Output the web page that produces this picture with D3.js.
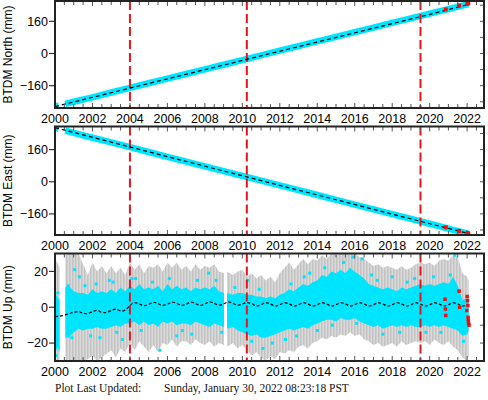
<!DOCTYPE html>
<html>
<head>
<meta charset="utf-8">
<script src="https://cdn.jsdelivr.net/npm/d3@7"></script>
<style>
  body { margin: 0; background: #fff; }
  svg { display: block; }
</style>
</head>
<body>
<svg id="chart" width="488" height="400"></svg>
<script>
// ---- data ----
const eventYears = [2004.0, 2010.24, 2019.51];
const yearTicks = [2000, 2002, 2004, 2006, 2008, 2010, 2012, 2014, 2016, 2018, 2020, 2022];

// North / East daily series (sampled), null = data gap
const neYears  = [2000.0, 2000.2, 2000.4, 2000.55, 2001, 2002, 2003, 2004, 2005, 2006, 2007, 2008, 2009, 2010, 2011, 2012, 2013, 2014, 2015, 2016, 2017, 2018, 2019, 2020, 2021, 2022, 2022.08];
const northVals = [-263, -259, null, -251, -240, -218, -194, -171, -148, -125, -102, -79, -56, -33, -9, 14, 37, 60, 83, 106, 129, 152, 175, 198, 221, 244, 246];
const eastVals  = [268, 263, null, 255, 243, 219, 196, 172, 148, 124, 100, 77, 53, 29, 6, -18, -42, -66, -90, -114, -137, -161, -185, -209, -233, -257, -259];

// model (black dashed) segments between the events
const modelYears = [2000.0, 2004.0, 2010.24, 2019.51, 2022.08];
const northModel = [-264, -172, -29, 183, 244];
const eastModel  = [269, 173, 24, -197, -258];

// rapid solutions (red)
const rapidYears = [2020.86, 2021.57, 2022.02, 2022.06];
const northRapid = [219, 238, 248, 250];
const eastRapid  = [-227, -245, -255, -258];

// Up: envelope of the scatter (cyan) and of the error bars (gray), null = gap
const upYears = [2000.00, 2000.12, 2000.25, 2000.40, 2000.55, 2000.75, 2001.00, 2001.25, 2001.50, 2001.75,
  2002.00, 2002.25, 2002.50, 2002.75, 2003.00, 2003.25, 2003.50, 2003.75, 2004.00, 2004.25, 2004.50, 2004.75,
  2005.00, 2005.25, 2005.50, 2005.75, 2006.00, 2006.25, 2006.50, 2006.75, 2007.00, 2007.25, 2007.50, 2007.75,
  2008.00, 2008.25, 2008.50, 2008.75, 2009.02, 2009.10, 2009.18, 2009.50, 2009.75, 2010.00, 2010.25, 2010.50,
  2010.75, 2011.00, 2011.25, 2011.50, 2011.75, 2012.00, 2012.25, 2012.50, 2012.75, 2013.00, 2013.25, 2013.50,
  2013.75, 2014.00, 2014.25, 2014.50, 2014.75, 2015.00, 2015.25, 2015.50, 2015.75, 2016.00, 2016.25, 2016.50,
  2016.75, 2017.00, 2017.25, 2017.50, 2017.75, 2018.00, 2018.25, 2018.50, 2018.75, 2019.00, 2019.25, 2019.50,
  2019.75, 2020.00, 2020.25, 2020.50, 2020.75, 2021.00, 2021.25, 2021.50, 2021.75, 2022.00, 2022.08];
const upGrayLo = [-30, -30, -30, null, -30, -30, -30, -30, -30, -29,
  -27, -30, -28, -26, -24, -28, -23, -25, -20, -24, -19, -22,
  -25, -21, -25, -20, -21, -18, -22, -19, -19, -21, -18, -20,
  -21, -19, -22, -20, -21, null, -22, -20, -23, -21, -24, -27,
  -25, -28, -30, -27, -29, -25, -26, -24, -25, -22, -21, -23,
  -20, -19, -17, -18, -16, -17, -15, -16, -14, -16, -15, -18,
  -19, -21, -20, -22, -21, -20, -22, -19, -21, -20, -19, -20,
  -19, -21, -18, -20, -21, -19, -22, -24, -28, -30, -27];
const upGrayHi = [27, 25, 22, null, 29, 30, 30, 30, 24, 18,
  25, 20, 23, 19, 23, 19, 22, 18, 25, 21, 24, 19,
  23, 22, 24, 20, 25, 22, 25, 21, 23, 20, 24, 21,
  23, 22, 24, 20, 19, null, 20, 18, 20, 21, 17, 19,
  16, 18, 15, 17, 14, 19, 22, 25, 21, 24, 27, 24,
  27, 26, 29, 27, 30, 29, 30, 30, 30, 30, 28, 27,
  25, 23, 24, 22, 23, 22, 21, 23, 21, 22, 24, 25,
  24, 25, 23, 26, 27, 26, 29, 28, 19, 17, 15];
const upCyanLo = [-27, -22, -25, null, -17, -17, -14, -12, -13, -12,
  -12, -11, -12, -12, -11, -10, -11, -9, -9, -8, -10, -8,
  -10, -9, -11, -8, -9, -8, -10, -9, -9, -10, -8, -9,
  -10, -11, -9, -10, -11, null, -12, -11, -13, -14, -15, -16,
  -15, -17, -17, -16, -15, -14, -13, -12, -13, -12, -11, -12,
  -10, -9, -8, -7, -7, -8, -6, -7, -7, -6, -8, -9,
  -10, -11, -10, -12, -11, -10, -11, -10, -11, -10, -11, -11,
  -10, -11, -10, -11, -10, -11, -12, -13, -16, -15, -13];
const upCyanHi = [8, 6, 4, null, 11, 12, 9, 8, 8, 7,
  10, 8, 9, 8, 10, 8, 11, 9, 12, 10, 13, 10,
  11, 10, 12, 9, 13, 10, 12, 10, 11, 9, 11, 10,
  11, 10, 12, 9, 8, null, 8, 7, 8, 8, 7, 7,
  6, 6, 5, 6, 5, 7, 8, 10, 9, 11, 13, 12,
  14, 15, 18, 17, 20, 19, 21, 19, 22, 20, 18, 16,
  13, 12, 11, 10, 11, 10, 9, 11, 10, 11, 12, 13,
  12, 13, 12, 13, 14, 13, 17, 12, 4, 5, 3];

// isolated cyan points outside the dense band
const upOutYears = [2000.05, 2000.15, 2000.7, 2000.9, 2001.05, 2001.3, 2001.6, 2001.9, 2002.2, 2002.4, 2002.9, 2003.1,
  2003.3, 2003.6, 2004.1, 2004.3, 2004.6, 2005.2, 2005.6, 2006.1, 2006.5, 2006.8, 2007.3, 2007.6, 2008.2, 2008.6,
  2008.9, 2009.6, 2010.3, 2010.5, 2010.9, 2011.1, 2011.6, 2012.3, 2012.6, 2012.9, 2013.3, 2013.6, 2014.0, 2014.4,
  2014.8, 2015.4, 2015.9, 2016.1, 2016.4, 2016.9, 2017.2, 2017.5, 2018.0, 2018.4, 2018.8, 2019.2, 2019.8, 2020.2,
  2020.6, 2021.1, 2021.35, 2021.8];
const upOutVals = [-27, 8, 12, -17, 21, 17, 12, -16, 13, -17, 15, 14,
  -14, -18, 16, 16, -13, 14, -24, 16, -16, -13, -15, 15, 19, 15,
  -14, 11, 15, -19, 10, -23, -20, -18, 13, -16, 17, 19, -13, 22,
  -10, 25, 28, -9, 27, 18, 15, -15, 17, -14, 14, 16, -14, 17,
  -14, 18, 29, -19];

// model for Up, sampled every quarter year from 2000.0 to 2022.0
const upModel = [-5.2, -5.0, -4.4, -3.6,  -2.8, -2.4, -3.4, -3.5,  -2.4, -1.8, -2.8, -2.9,  -1.8, -1.1, -2.0, -1.6,
  1.0, 2.6, 1.8, 0.9,  1.6, 2.8, 2.0, 1.0,  1.7, 2.9, 2.1, 1.1,  1.7, 2.9, 2.1, 1.0,  1.8, 3.0, 2.2, 1.1,
  1.8, 3.0, 2.2, 1.1,  1.8, 2.6, 2.0, 0.7,  1.4, 2.6, 1.8, 0.7,  1.4, 2.6, 1.8, 0.7,  1.4, 2.6, 1.8, 0.7,
  1.4, 2.6, 1.8, 0.7,  1.4, 2.6, 1.8, 0.7,  1.4, 2.6, 1.8, 0.7,  1.4, 2.6, 1.8, 0.7,  1.4, 2.6, 1.8, 0.7,
  1.4, 2.6, 1.8, 0.7,  1.4, 2.6, 1.8, 0.7,  1.4, 2.6, 1.8, 0.7,  1.4];

const upRapidYears = [2020.82, 2020.84, 2020.86, 2021.57, 2021.6, 2021.98, 2022.0, 2022.02, 2022.04, 2022.05, 2022.06, 2022.08, 2022.1];
const upRapidVals  = [4.5, -1, -4.6, 9, 0, -1.8, 6, 3.7, 1, -5.6, -7.4, -9, -10];

// ---- layout ----
const left = 55, right = 484;
const cyan = "#00e5ff", red = "#ee1111";
const font = "'Liberation Sans', Arial, Helvetica, sans-serif";
const serif = "'Liberation Serif', 'Times New Roman', serif";

const x = d3.scaleLinear().domain([2000, 2022.9]).range([left, right]);

const panels = [
  {label: "BTDM North (mm)", top: 1,     bottom: 108, domain: [-271, 261], labels: [-160, 0, 160], step: 80},
  {label: "BTDM East (mm)",  top: 126.5, bottom: 235, domain: [-265, 275], labels: [-160, 0, 160], step: 80},
  {label: "BTDM Up (mm)",    top: 253.5, bottom: 361, domain: [-30, 30],   labels: [-20, 0, 20],   step: 10}
];

const svg = d3.select("#chart");
const defs = svg.append("defs");

// texture for the gray error bars (vertical streaks)
const pat = defs.append("pattern").attr("id", "ebars")
  .attr("width", 3).attr("height", 4).attr("patternUnits", "userSpaceOnUse");
pat.append("rect").attr("width", 3).attr("height", 4).attr("fill", "#dadada");
pat.append("rect").attr("width", 1.5).attr("height", 4).attr("fill", "#c3c3c3");

const fmt = v => v < 0 ? "\u2212" + Math.abs(v) : String(v);

panels.forEach((p, i) => {
  p.y = d3.scaleLinear().domain(p.domain).range([p.bottom, p.top]);
  defs.append("clipPath").attr("id", "clip" + i)
    .append("rect").attr("x", left).attr("y", p.top)
    .attr("width", right - left).attr("height", p.bottom - p.top);
  p.g = svg.append("g");
  p.plot = p.g.append("g").attr("clip-path", `url(#clip${i})`);
});

function drawEvents(p) {
  p.plot.selectAll("line.event").data(eventYears).join("line").attr("class", "event")
    .attr("x1", d => x(d)).attr("x2", d => x(d))
    .attr("y1", p.top).attr("y2", p.bottom)
    .attr("stroke", "#e8141c").attr("stroke-width", 2)
    .attr("stroke-dasharray", "9,4");
}

// ---- North and East ----
function drawNE(p, vals, model, rapid) {
  const pts = neYears.map((t, i) => [t, vals[i]]);
  const line = d3.line().defined(d => d[1] != null).x(d => x(d[0])).y(d => p.y(d[1]));

  p.plot.append("path").attr("d", line(pts))
    .attr("fill", "none").attr("stroke", cyan).attr("stroke-width", 6.5);

  drawEvents(p);

  p.plot.append("path").attr("d", line(modelYears.map((t, i) => [t, model[i]])))
    .attr("fill", "none").attr("stroke", "#000").attr("stroke-width", 1.2)
    .attr("stroke-dasharray", "4,3");

  p.plot.selectAll("rect.rapid").data(rapidYears.map((t, i) => [t, rapid[i]]))
    .join("rect").attr("class", "rapid")
    .attr("x", d => x(d[0]) - 2).attr("y", d => p.y(d[1]) - 2)
    .attr("width", 4).attr("height", 4).attr("fill", red);
}

drawNE(panels[0], northVals, northModel, northRapid);
drawNE(panels[1], eastVals, eastModel, eastRapid);

// ---- Up ----
(function () {
  const p = panels[2];
  const rows = upYears.map((t, i) => ({t, gLo: upGrayLo[i], gHi: upGrayHi[i], cLo: upCyanLo[i], cHi: upCyanHi[i]}));

  const grayArea = d3.area().defined(d => d.gLo != null)
    .x(d => x(d.t)).y0(d => p.y(d.gLo)).y1(d => p.y(d.gHi));
  const cyanArea = d3.area().defined(d => d.cLo != null)
    .x(d => x(d.t)).y0(d => p.y(d.cLo)).y1(d => p.y(d.cHi));

  p.plot.append("path").attr("d", grayArea(rows)).attr("fill", "url(#ebars)");
  p.plot.append("path").attr("d", cyanArea(rows)).attr("fill", cyan);

  p.plot.selectAll("rect.out").data(upOutYears.map((t, i) => [t, upOutVals[i]]))
    .join("rect").attr("class", "out")
    .attr("x", d => x(d[0]) - 1.5).attr("y", d => p.y(d[1]) - 1.5)
    .attr("width", 3).attr("height", 3).attr("fill", cyan);

  drawEvents(p);

  const qYears = d3.range(upModel.length).map(k => 2000 + k * 0.25);
  const mline = d3.line().curve(d3.curveCatmullRom).x(d => x(d[0])).y(d => p.y(d[1]));
  p.plot.append("path").attr("d", mline(qYears.map((t, k) => [t, upModel[k]])))
    .attr("fill", "none").attr("stroke", "#000").attr("stroke-width", 1.2)
    .attr("stroke-dasharray", "3,2");

  p.plot.selectAll("rect.rapid").data(upRapidYears.map((t, i) => [t, upRapidVals[i]]))
    .join("rect").attr("class", "rapid")
    .attr("x", d => x(d[0]) - 1.75).attr("y", d => p.y(d[1]) - 1.75)
    .attr("width", 3.5).attr("height", 3.5).attr("fill", red);
})();

// ---- frames, ticks, labels ----
const halfYears = d3.range(2000, 2023, 0.5).filter(t => t <= 2022.9);

panels.forEach(p => {
  const g = p.g;
  g.selectAll("line.xb").data(halfYears).join("line").attr("class", "xb")
    .attr("x1", d => x(d)).attr("x2", d => x(d))
    .attr("y1", p.bottom).attr("y2", d => p.bottom - (d % 2 === 0 ? 5 : 4))
    .attr("stroke", "#555").attr("stroke-width", 1);
  g.selectAll("line.xt").data(halfYears).join("line").attr("class", "xt")
    .attr("x1", d => x(d)).attr("x2", d => x(d))
    .attr("y1", p.top).attr("y2", d => p.top + (d % 2 === 0 ? 5 : 4))
    .attr("stroke", "#555").attr("stroke-width", 1);

  const steps = d3.range(Math.ceil(p.domain[0] / p.step) * p.step, p.domain[1], p.step);
  g.selectAll("line.yr").data(steps).join("line").attr("class", "yr")
    .attr("x1", right).attr("x2", right - 4)
    .attr("y1", d => p.y(d)).attr("y2", d => p.y(d))
    .attr("stroke", "#555").attr("stroke-width", 1);
  g.selectAll("line.yl").data(p.labels).join("line").attr("class", "yl")
    .attr("x1", left - 6).attr("x2", left)
    .attr("y1", d => p.y(d)).attr("y2", d => p.y(d))
    .attr("stroke", "#333").attr("stroke-width", 1.2);

  g.append("rect").attr("x", left).attr("y", p.top)
    .attr("width", right - left).attr("height", p.bottom - p.top)
    .attr("fill", "none").attr("stroke", "#222").attr("stroke-width", 2);

  g.selectAll("text.yl").data(p.labels).join("text").attr("class", "yl")
    .attr("x", left - 7).attr("y", d => p.y(d) + 4.3)
    .attr("text-anchor", "end").attr("font-family", font).attr("font-size", 12.5)
    .attr("fill", "#000").text(fmt);

  g.selectAll("text.xl").data(yearTicks).join("text").attr("class", "xl")
    .attr("x", d => x(d)).attr("y", p.bottom + 15)
    .attr("text-anchor", "middle").attr("font-family", font).attr("font-size", 12.5)
    .attr("fill", "#000").text(d => d);

  g.append("text")
    .attr("transform", `translate(12,${(p.top + p.bottom) / 2}) rotate(-90)`)
    .attr("text-anchor", "middle").attr("font-family", font).attr("font-size", 12)
    .attr("fill", "#000").text(p.label);
});

// footer
svg.append("text").attr("x", 55).attr("y", 392)
  .attr("font-family", serif).attr("font-size", 11.5)
  .attr("fill", "#111").text("Plot Last Updated:");
svg.append("text").attr("x", 164).attr("y", 392)
  .attr("font-family", serif).attr("font-size", 11.5)
  .attr("fill", "#111").text("Sunday, January 30, 2022 08:23:18 PST");
</script>
</body>
</html>
